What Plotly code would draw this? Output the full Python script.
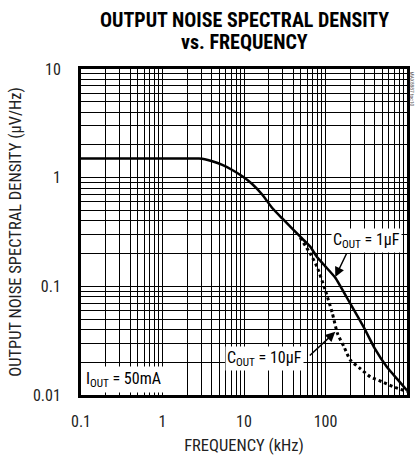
import plotly.graph_objects as go

# Data (frequency in kHz, noise in uV/rtHz)
freq_1uF = [0.1, 1, 2.8, 3.3, 4.08, 5.42, 7.18, 9.53, 12.6, 16.7, 22.2, 29.5, 49, 65, 79, 100, 132, 200, 300, 400, 570, 760, 1000]
noise_1uF = [1.5, 1.5, 1.5, 1.48, 1.416, 1.309, 1.177, 1.03, 0.875, 0.70, 0.526, 0.421, 0.286, 0.232, 0.185, 0.152, 0.12, 0.07, 0.041, 0.027, 0.018, 0.014, 0.011]

freq_10uF = [49, 65, 79, 99, 121, 140, 170, 201, 260, 355, 500, 680, 1000]
noise_10uF = [0.28, 0.2, 0.15, 0.093, 0.057, 0.037, 0.0274, 0.021, 0.0178, 0.0147, 0.0132, 0.0119, 0.0108]

x_tickvals = [0.1, 1, 10, 100, 1000]
x_ticktext = ["0.1", "1", "10", "100", "1000"]
y_tickvals = [0.01, 0.1, 1, 10]
y_ticktext = ["0.01", "0.1", "1", "10"]

FONT = "Liberation Sans Narrow, Roboto Condensed, DejaVu Sans Condensed, Arial Narrow, sans-serif"

fig = go.Figure()
fig.add_trace(go.Scatter(x=freq_1uF, y=noise_1uF, mode="lines",
                         line=dict(color="black", width=2.5, shape="spline", smoothing=0.4),
                         showlegend=False, hoverinfo="skip"))
fig.add_trace(go.Scatter(x=freq_10uF, y=noise_10uF, mode="lines",
                         line=dict(color="black", width=3, dash="dot", shape="spline", smoothing=0.6),
                         showlegend=False, hoverinfo="skip"))

axis_common = dict(
    type="log", showline=True, linecolor="black", linewidth=3, mirror=True,
    showgrid=True, gridcolor="black", gridwidth=1.3,
    ticks="", zeroline=False, automargin=False,
    tickfont=dict(family=FONT, size=16, color="#222"),
    minor=dict(dtick="D1", showgrid=True, gridcolor="black", gridwidth=1, ticks=""),
)

fig.update_layout(
    width=415, height=455,
    margin=dict(l=81, r=8, t=69, b=60),
    paper_bgcolor="white", plot_bgcolor="white",
    xaxis=dict(axis_common, range=[-1, 3], tickvals=x_tickvals, ticktext=x_ticktext,
               ticklabelstandoff=10,
               title=dict(text="FREQUENCY (kHz)", font=dict(family=FONT, size=16.5, color="#222"), standoff=10)),
    yaxis=dict(axis_common, range=[-2, 1], tickvals=y_tickvals, ticktext=y_ticktext,
               ticklabelstandoff=14,
               title=dict(text="OUTPUT NOISE SPECTRAL DENSITY (µV/Hz)", font=dict(family=FONT, size=16.5, color="#222"), standoff=8)),
)

# Title (two lines)
fig.add_annotation(x=0.5, y=(395 - 20) / 326, xref="paper", yref="paper", yanchor="middle",
                   text="<b>OUTPUT NOISE SPECTRAL DENSITY</b>", showarrow=False,
                   font=dict(family=FONT, size=20, color="black"))
fig.add_annotation(x=0.5, y=(395 - 42) / 326, xref="paper", yref="paper", yanchor="middle",
                   text="<b>vs. FREQUENCY</b>", showarrow=False,
                   font=dict(family=FONT, size=20, color="black"))

ann_font = dict(family=FONT, size=16, color="black")
fig.add_annotation(x=2.50, y=-0.582, xref="x", yref="y",
                   text="C<sub>OUT</sub> = 1µF", showarrow=False, font=ann_font,
                   bgcolor="white", borderpad=1)
fig.add_annotation(x=2.12, y=-0.914, xref="x", yref="y", text="", showarrow=True,
                   ax=12, ay=-25, arrowhead=2, arrowsize=1.3, arrowwidth=1.5, arrowcolor="black")
fig.add_annotation(x=1.249, y=-1.668, xref="x", yref="y",
                   text="C<sub>OUT</sub> = 10µF", showarrow=False, font=ann_font,
                   bgcolor="white", borderpad=1)
fig.add_annotation(x=2.12, y=-1.419, xref="x", yref="y", text="", showarrow=True,
                   ax=-27, ay=25, arrowhead=2, arrowsize=1.3, arrowwidth=1.5, arrowcolor="black")
fig.add_annotation(x=-0.98, y=-1.985, xref="x", yref="y", xanchor="left", yanchor="bottom",
                   text="I<sub>OUT</sub> = 50mA", showarrow=False, font=ann_font,
                   bgcolor="white", borderpad=2)
fig.add_annotation(x=1.0, y=1.0, xref="paper", yref="paper", xanchor="left", yanchor="top",
                   xshift=0, text="MAX8887 toc10", textangle=90, showarrow=False,
                   font=dict(family=FONT, size=5.5, color="#555"))

fig.write_html("out.html")
